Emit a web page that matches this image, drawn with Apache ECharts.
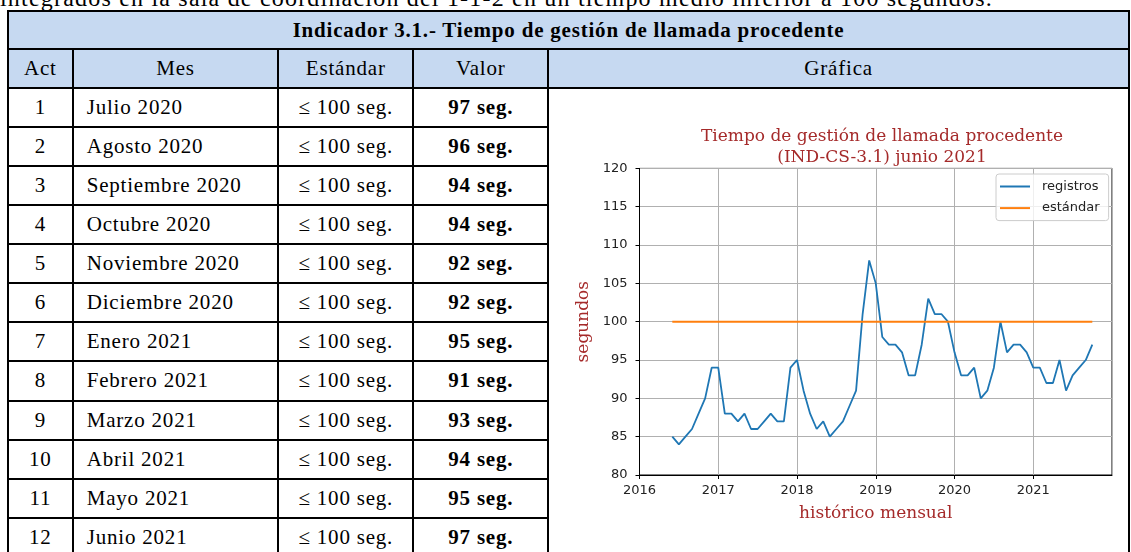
<!DOCTYPE html>
<html>
<head>
<meta charset="utf-8">
<script src="https://cdn.jsdelivr.net/npm/echarts@6/dist/echarts.min.js"></script>
<style>
  body { margin:0; width:1131px; height:552px; overflow:hidden; background:#fff; position:relative;
         font-family:'Liberation Serif', serif; color:#000; }
  .ln { position:absolute; background:#000; }
  .bg { position:absolute; background:#c6d9f1; }
  .cell { position:absolute; display:flex; align-items:center; font-size:21px; letter-spacing:0.8px; white-space:nowrap; }
  .c { justify-content:center; }
  .b { font-weight:bold; }
  #intro { position:absolute; left:0; top:-14px; font-size:24px; line-height:24px; letter-spacing:1.2px; white-space:nowrap; }
  #mainOne1 { position:absolute; left:549px; top:89px; width:579px; height:463px; }
</style>
</head>
<body>
<div id="intro">integrados en la sala de coordinación del 1-1-2 en un tiempo medio inferior a 100 segundos.</div>
<div id="tabla"></div>
<div id="mainOne1"></div>
<script>
// datos de la tabla
var acts = [1, 2, 3, 4, 5, 6, 7, 8, 9, 10, 11, 12];
var meses = ['Julio 2020', 'Agosto 2020', 'Septiembre 2020', 'Octubre 2020', 'Noviembre 2020', 'Diciembre 2020',
             'Enero 2021', 'Febrero 2021', 'Marzo 2021', 'Abril 2021', 'Mayo 2021', 'Junio 2021'];
var estandarTxt = '≤ 100 seg.';
var valores = [97, 96, 94, 94, 92, 92, 95, 91, 93, 94, 95, 97];

// datos de la gráfica (mes en que se pinta cada punto)
var fechas = ['2016-06','2016-07','2016-08','2016-09','2016-10','2016-11','2016-12',
  '2017-01','2017-02','2017-03','2017-04','2017-05','2017-06','2017-07','2017-08','2017-09','2017-10','2017-11','2017-12',
  '2018-01','2018-02','2018-03','2018-04','2018-05','2018-06','2018-07','2018-08','2018-09','2018-10','2018-11','2018-12',
  '2019-01','2019-02','2019-03','2019-04','2019-05','2019-06','2019-07','2019-08','2019-09','2019-10','2019-11','2019-12',
  '2020-01','2020-02','2020-03','2020-04','2020-05','2020-06','2020-07','2020-08','2020-09','2020-10','2020-11','2020-12',
  '2021-01','2021-02','2021-03','2021-04','2021-05','2021-06','2021-07','2021-08','2021-09','2021-10'];
var registros = [85, 84, 85, 86, 88, 90, 94,
  94, 88, 88, 87, 88, 86, 86, 87, 88, 87, 87, 94,
  95, 91, 88, 86, 87, 85, 86, 87, 89, 91, 101, 108,
  105, 98, 97, 97, 96, 93, 93, 97, 103, 101, 101, 100,
  96, 93, 93, 94, 90, 91, 94, 100, 96, 97, 97, 96,
  94, 94, 92, 92, 95, 91, 93, 94, 95, 97];
var estandar = 100;
var yTicks = [80, 85, 90, 95, 100, 105, 110, 115, 120];

// ---- tabla ----
var tabla = document.getElementById('tabla');
var xs = [8, 72.7, 278.3, 413.3, 548.3, 1129];
var yTop = 11, yTit = 49.3, yHead = 87.7, rowH = 39.1;

function add(cls, l, t, w, h, txt) {
  var d = document.createElement('div');
  d.className = cls;
  d.style.left = l + 'px'; d.style.top = t + 'px';
  d.style.width = w + 'px'; d.style.height = h + 'px';
  if (txt !== undefined) d.textContent = txt;
  tabla.appendChild(d);
  return d;
}
add('bg', xs[0], yTop, xs[5] - xs[0], yHead - yTop);
add('cell c b', xs[0], yTop, xs[5] - xs[0], yTit - yTop, 'Indicador 3.1.- Tiempo de gestión de llamada procedente');
var cab = ['Act', 'Mes', 'Estándar', 'Valor', 'Gráfica'];
cab.forEach(function (t, i) { add('cell c', xs[i], yTit, xs[i + 1] - xs[i], yHead - yTit, t); });

acts.forEach(function (a, i) {
  var t = yHead + i * rowH;
  add('cell c', xs[0], t, xs[1] - xs[0], rowH, String(a));
  var m = add('cell', xs[1], t, xs[2] - xs[1], rowH, meses[i]);
  m.style.paddingLeft = '14px'; m.style.boxSizing = 'border-box';
  add('cell c', xs[2], t, xs[3] - xs[2], rowH, estandarTxt);
  add('cell c b', xs[3], t, xs[4] - xs[3], rowH, valores[i] + ' seg.');
});

// lineas
[yTop, yTit, yHead].forEach(function (y) { add('ln', xs[0] - 1, y - 1, xs[5] - xs[0] + 2, 2); });
for (var r = 1; r < acts.length; r++) {
  var y = yHead + r * rowH;
  add('ln', xs[0] - 1, y - 1, xs[4] - xs[0] + 2, 2);
}
add('ln', xs[0] - 1, yTop - 1, 2, 600);
add('ln', xs[5] - 1, yTop - 1, 2, 600);
for (var c = 1; c < 5; c++) add('ln', xs[c] - 1, yTit - 1, 2, 600);

// ---- gráfica ----
var chart = document.getElementById('mainOne1');
var myChart = echarts.init(chart);

function aAnio(f) {
  var p = f.split('-');
  return Number(p[0]) + (Number(p[1]) - 1) / 12;
}
var serieReg = fechas.map(function (f, i) { return [aAnio(f), registros[i]]; });
var serieStd = [[aAnio(fechas[0]), estandar], [aAnio(fechas[fechas.length - 1]), estandar]];

var rojo = '#a52a2a';
var option = {
  animation: false,
  title: {
    text: 'Tiempo de gestión de llamada procedente\n(IND-CS-3.1) junio 2021',
    left: 328, top: 32, textAlign: 'center',
    textStyle: { color: rojo, fontFamily: 'DejaVu Serif', fontWeight: 'normal', fontSize: 17, lineHeight: 21 }
  },
  grid: { left: 90.5, top: 79.4, width: 472.5, height: 306.6, show: true, borderColor: '#000', borderWidth: 1 },
  legend: {
    data: ['registros', 'estándar'],
    orient: 'vertical',
    left: 447, top: 85,
    icon: 'rect', itemWidth: 30, itemHeight: 2, itemGap: 6.6,
    padding: [5, 9, 5, 4],
    borderColor: '#cccccc', borderWidth: 1, borderRadius: 3,
    backgroundColor: 'rgba(255,255,255,0.8)',
    textStyle: { fontFamily: 'DejaVu Sans', fontSize: 13, color: '#222', lineHeight: 15, padding: [0, 0, 0, 7] }
  },
  xAxis: {
    type: 'value', min: 2016, max: 2022, interval: 1,
    name: 'histórico mensual', nameLocation: 'middle', nameGap: 30,
    nameTextStyle: { color: rojo, fontFamily: 'DejaVu Serif', fontSize: 17 },
    axisLine: { show: true, lineStyle: { color: '#000', width: 1 } },
    axisTick: { show: true, length: 4, lineStyle: { color: '#000' } },
    axisLabel: {
      color: '#222', fontFamily: 'DejaVu Sans', fontSize: 13, margin: 9, showMaxLabel: false,
      formatter: function (v) { return v >= 2022 ? '' : String(v); }
    },
    splitLine: { show: true, lineStyle: { color: '#b0b0b0', width: 1 } }
  },
  yAxis: {
    type: 'value', min: yTicks[0], max: yTicks[yTicks.length - 1], interval: 5,
    name: 'segundos', nameLocation: 'middle', nameGap: 40, nameRotate: 90,
    nameTextStyle: { color: rojo, fontFamily: 'DejaVu Serif', fontSize: 17 },
    axisLine: { show: true, lineStyle: { color: '#000', width: 1 } },
    axisTick: { show: true, length: 4, lineStyle: { color: '#000' } },
    axisLabel: { color: '#222', fontFamily: 'DejaVu Sans', fontSize: 13, margin: 12 },
    splitLine: { show: true, lineStyle: { color: '#b0b0b0', width: 1 } }
  },
  series: [
    {
      name: 'registros', type: 'line', data: serieReg,
      showSymbol: false, symbol: 'none',
      itemStyle: { color: '#1f77b4' },
      lineStyle: { color: '#1f77b4', width: 1.8 }
    },
    {
      name: 'estándar', type: 'line', data: serieStd,
      showSymbol: false, symbol: 'none',
      itemStyle: { color: '#ff7f0e' },
      lineStyle: { color: '#ff7f0e', width: 2 }
    }
  ]
};
myChart.setOption(option);
window.onresize = myChart.resize;
</script>
</body>
</html>
